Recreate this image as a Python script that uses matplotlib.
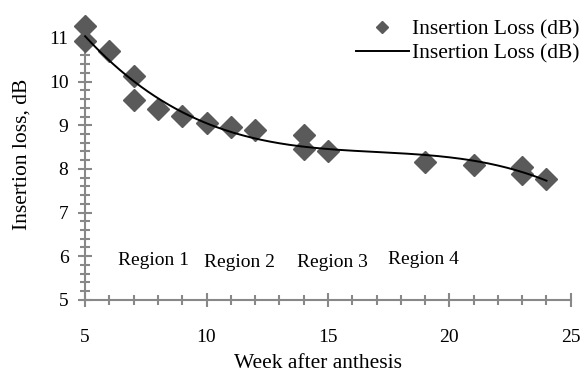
import matplotlib.pyplot as plt
import numpy as np
from matplotlib.ticker import MultipleLocator

weeks = [5, 5, 6, 7, 7, 8, 9, 10, 11, 12, 14, 14, 15, 19, 21, 23, 23, 24]
loss = [11.28, 10.92, 10.70, 10.12, 9.58, 9.38, 9.22, 9.05, 8.95, 8.88,
        8.77, 8.46, 8.40, 8.15, 8.10, 8.05, 7.88, 7.76]

region_labels = ["Region 1", "Region 2", "Region 3", "Region 4"]
region_x = [7.8, 11.34, 15.2, 18.95]
region_y = [5.90, 5.85, 5.85, 5.92]

plt.rcParams['font.family'] = ['Liberation Serif', 'DejaVu Serif']

fig = plt.figure(figsize=(5.83, 3.72), dpi=100)
ax = fig.add_axes([0.146, 0.194, 0.833, 0.704])

# cubic trendline through the measured points
coef = np.polyfit(weeks, loss, 3)
xs = np.linspace(min(weeks), max(weeks), 200)

ax.plot(weeks, loss, 'D', color='#5a5a5a', markersize=11.5, clip_on=False,
        label="Insertion Loss (dB)", zorder=3)
ax.plot(xs, np.polyval(coef, xs), color='black', lw=1.4, clip_on=False,
        label="Insertion Loss (dB)", zorder=4)

for lab, x, y in zip(region_labels, region_x, region_y):
    ax.text(x, y, lab, ha='center', va='center', fontsize=14)

ax.set_xlim(5, 25)
ax.set_ylim(5, 11)
ax.set_yticks(range(5, 12))
ax.xaxis.set_major_locator(MultipleLocator(5))
ax.xaxis.set_minor_locator(MultipleLocator(1))
ax.yaxis.set_minor_locator(MultipleLocator(0.2))

for s in ['top', 'right']:
    ax.spines[s].set_visible(False)
for s in ['left', 'bottom']:
    ax.spines[s].set_color('#888888')
    ax.spines[s].set_linewidth(1.5)

ax.tick_params(which='both', direction='inout', color='#888888', width=1.5)
ax.tick_params(which='major', length=10, labelsize=14)
ax.tick_params(which='minor', length=7)
ax.tick_params(axis='x', which='major', pad=16)
ax.tick_params(axis='y', which='major', pad=7)

ax.set_xlabel("Week after anthesis", fontsize=15.5)
ax.set_ylabel("Insertion loss, dB", fontsize=15.5)
ax.xaxis.set_label_coords(0.479, -0.207)
ax.yaxis.set_label_coords(-0.111, 0.557)

fig.legend(loc='upper right', bbox_to_anchor=(1.008, 0.97), frameon=False,
           fontsize=15.5, handlelength=2.5, handletextpad=0.1,
           borderaxespad=0, labelspacing=0.15, markerscale=0.5)

fig.savefig("out.png", dpi=100)
